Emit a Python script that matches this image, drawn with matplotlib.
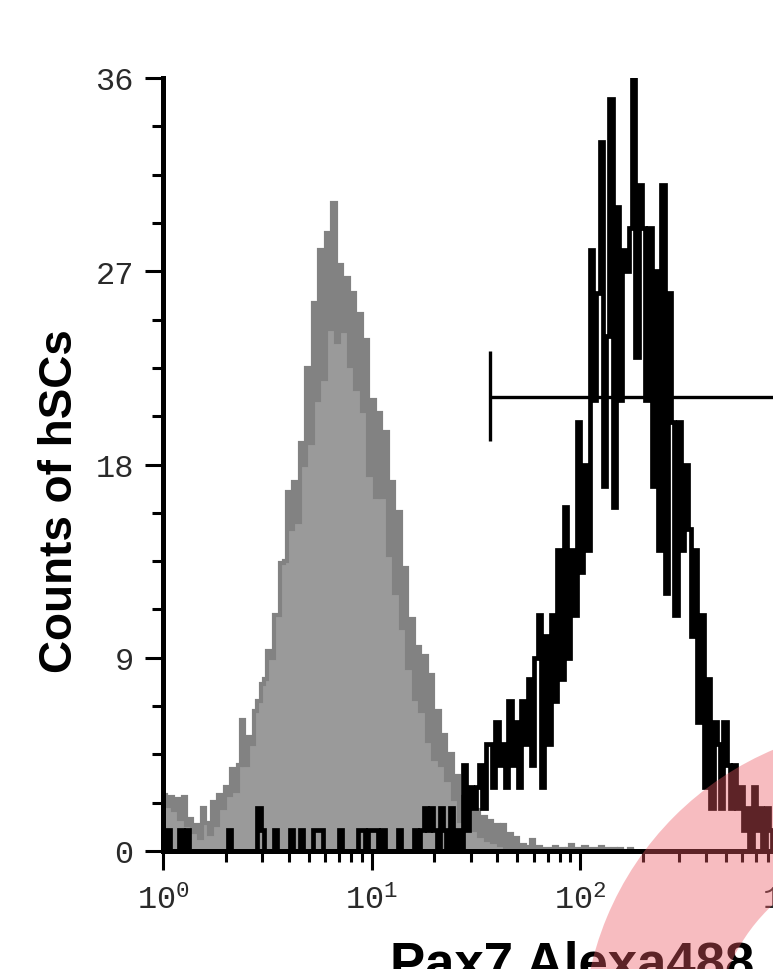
import numpy as np
import matplotlib
matplotlib.use("Agg")
import matplotlib.pyplot as plt
from matplotlib.patches import Annulus
from matplotlib.ticker import FixedLocator, NullFormatter

# ---------------- data ----------------
channels_per_decade = 64   # histogram channels per log decade, starting at 10^0

# isotype / negative control (gray filled histogram)
control_counts = [
    2.6, 2.1, 2.5, 1.9, 2.4, 1.5, 2.5, 1.2, 1.5, 0.9,
    1.2, 0.6, 2.0, 1.3, 0.8, 2.3, 1.2, 2.6, 2.0, 3.0,
    2.6, 3.8, 2.8, 4.0, 6.1, 4.0, 5.3, 5.0, 6.5, 7.0,
    7.8, 8.0, 9.3, 9.0, 11.0, 11.0, 13.4, 13.5, 16.7, 15.0,
    17.2, 15.3, 19.0, 18.0, 22.5, 19.0, 25.5, 21.0, 28.0, 22.0,
    28.8, 24.3, 30.2, 23.7, 27.3, 24.2, 26.7, 22.6, 26.0, 21.5,
    25.0, 20.5, 23.8, 17.5, 21.0, 16.5, 20.4, 16.5, 19.5, 13.8,
    17.2, 12.0, 15.8, 10.4, 13.2, 8.5, 10.8, 7.1, 9.5, 6.5,
    9.1, 5.1, 8.2, 4.3, 6.5, 4.0, 5.4, 3.3, 4.5, 2.4,
    3.5, 1.4, 2.5, 1.2, 2.3, 1.0, 1.9, 0.7, 1.6, 0.5,
    1.4, 0.4, 1.2, 0.3, 1.2, 0.2, 0.8, 0.2, 0.6, 0.1,
    0.3, 0.1, 0.2, 0.5, 0.1, 0.2, 0.0, 0.1, 0.0, 0.1,
    0.2, 0.0, 0.1, 0.0, 0.1, 0.3, 0.0, 0.1, 0.0, 0.2,
    0.0, 0.1, 0.1, 0.0, 0.2, 0.0, 0.1, 0.0, 0.1, 0.0,
    0.1, 0.0, 0.0, 0.1, 0.0,
]

# Pax7 Alexa488 stained hSCs (black outline histogram)
pax7_counts = [
    0, 1, 0, 0, 0, 1, 0, 1, 0, 0,
    0, 0, 0, 0, 0, 0, 0, 0, 0, 0,
    1, 0, 0, 0, 0, 0, 0, 0, 0, 2,
    1, 0, 0, 0, 1, 0, 0, 0, 0, 1,
    0, 0, 1, 0, 0, 0, 1, 1, 1, 0,
    0, 0, 0, 0, 1, 0, 0, 0, 0, 0,
    1, 1, 0, 1, 1, 1, 0, 1, 0, 0,
    0, 0, 1, 0, 0, 0, 0, 1, 0, 1,
    2, 1, 2, 1, 0, 2, 1, 0, 2, 0,
    1, 0, 4, 1, 3, 2, 3, 4, 2, 5,
    5, 3, 6, 4, 5, 3, 7, 4, 6, 3,
    7, 5, 8, 4, 9, 11, 3, 10, 5, 11,
    7, 14, 8, 16, 9, 14, 11, 20, 13, 18,
    14, 28, 21, 26, 33, 17, 24, 35, 16, 30,
    21, 28, 27, 29, 36, 23, 31, 29, 21, 29,
    17, 27, 14, 31, 12, 26, 20, 11, 20, 14,
    18, 15, 10, 14, 6, 11, 3, 8, 2, 6,
    5, 2, 6, 4, 2, 4, 2, 3, 1, 2,
    0, 3, 1, 2, 0, 2, 1, 0,
]

# marker gate
gate_x = [37, 10000]
gate_y = 21.15
gate_bar = [19.1, 23.3]

y_major = [0, 9, 18, 27, 36]
y_labels = ["0", "9", "18", "27", "36"]
x_major = [1, 10, 100, 1000, 10000]
x_labels = [r"$10^{0}$", r"$10^{1}$", r"$10^{2}$", r"$10^{3}$", r"$10^{4}$"]

# ---------------- figure ----------------
plt.rcParams["mathtext.default"] = "regular"
W, H = 773, 970
fig = plt.figure(figsize=(W / 100, H / 100), dpi=100)
ax = fig.add_axes([163 / W, 118 / H, 834 / W, 773 / H])

edges_c = 10 ** (np.arange(len(control_counts) + 1) / channels_per_decade)
edges_p = 10 ** (np.arange(len(pax7_counts) + 1) / channels_per_decade)

ax.stairs(control_counts, edges_c, fill=True, color="#9a9a9a", zorder=1)
ax.stairs(control_counts, edges_c, color="#828282", lw=3.0, zorder=2)
ax.stairs(pax7_counts, edges_p, color="black", lw=3.4, zorder=3)

ax.plot(gate_x, [gate_y, gate_y], color="black", lw=2.4, zorder=4,
        solid_capstyle="butt")
ax.plot([gate_x[0], gate_x[0]], gate_bar, color="black", lw=2.4, zorder=4,
        solid_capstyle="butt")

ax.set_xscale("log")
ax.set_xlim(1, 10000)
ax.set_ylim(0, 36)

for s in ["top", "right"]:
    ax.spines[s].set_visible(False)
for s in ["left", "bottom"]:
    ax.spines[s].set_linewidth(3.6)
    ax.spines[s].set_zorder(6)

tick_font = dict(family="Liberation Mono", size=23, color="#2a2a2a")

ax.yaxis.set_major_locator(FixedLocator(y_major))
ax.set_yticklabels(y_labels, **tick_font)
ax.yaxis.set_minor_locator(FixedLocator([v * 2.25 for v in range(17) if v % 4]))
ax.tick_params(axis="y", which="major", length=13, width=2.2, pad=8,
               direction="out")
ax.tick_params(axis="y", which="minor", length=8, width=2.2, direction="out")

ax.xaxis.set_major_locator(FixedLocator(x_major))
ax.set_xticklabels(x_labels, **tick_font)
minor_x = [m * 10 ** d for d in range(4) for m in range(2, 10)]
ax.xaxis.set_minor_locator(FixedLocator(minor_x))
ax.xaxis.set_minor_formatter(NullFormatter())
ax.tick_params(axis="x", which="major", length=14, width=2.2, pad=10,
               direction="out")
ax.tick_params(axis="x", which="minor", length=8, width=2.2, direction="out")

fig.text(60 / W, 1 - 501 / H, "Counts of hSCs", rotation=90, ha="center",
         va="center", family="Liberation Sans", weight="bold", size=33)
fig.text(390 / W, 1 - 980 / H, "Pax7 Alexa488", ha="left", va="baseline",
         family="Liberation Sans", weight="bold", size=38)

# pink ring overlay (in inches, figure coordinates)
ring = Annulus((8.95, -0.68), 3.12, 1.32, transform=fig.dpi_scale_trans,
               facecolor=(0.92, 0.35, 0.39), edgecolor="none", alpha=0.4,
               zorder=20)
fig.add_artist(ring)

fig.savefig("out.png", dpi=100)
